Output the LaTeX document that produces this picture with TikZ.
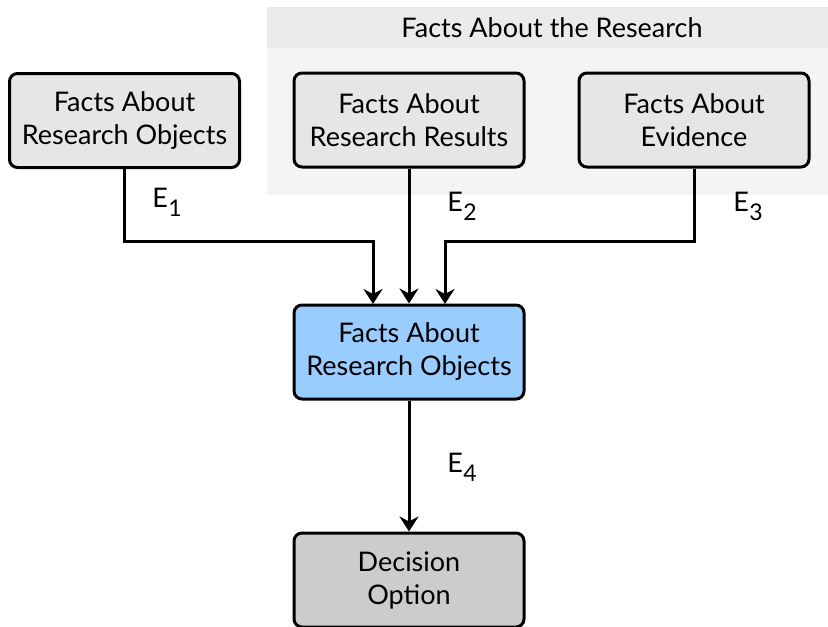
\documentclass[tikz,border=0pt]{standalone}
\usepackage{fontspec}
\setmainfont{Lato}
\usetikzlibrary{arrows.meta}
\definecolor{boxgray}{HTML}{E6E6E6}
\definecolor{darkgray}{HTML}{CCCCCC}
\definecolor{lightblue}{HTML}{99CCFF}
\definecolor{grphead}{HTML}{EBEBEB}
\definecolor{grpbody}{HTML}{F4F4F4}
\newcommand{\esub}[1]{E\kern0.5pt\raisebox{-9pt}{\fontsize{23}{26}\selectfont #1}}
\begin{document}
\begin{tikzpicture}[x=1pt,y=-1pt,
  fbox/.style={draw=black,line width=3pt,rounded corners=8pt,minimum width=230pt,minimum height=94pt,align=center,font=\fontsize{27}{33}\selectfont,inner sep=0pt},
  conn/.style={line width=3pt,-{Stealth[length=15pt,width=19pt,inset=5pt]}},
  elabel/.style={font=\fontsize{27}{30}\selectfont,inner sep=0pt}]
\useasboundingbox (0,0) rectangle (828,627);
% group background
\fill[grpbody] (267,7) rectangle (828,195);
\fill[grphead] (267,7) rectangle (828,48);
\node[font=\fontsize{27}{30}\selectfont] (grp) at (552,28) {Facts About the Research};
% boxes
\node[fbox,fill=boxgray] (b1) at (124.5,120.5) {Facts About\\Research Objects};
\node[fbox,fill=boxgray] (b2) at (409,120) {Facts About\\Research Results};
\node[fbox,fill=boxgray] (b3) at (694,120) {Facts About\\Evidence};
\node[fbox,fill=lightblue] (c) at (409,352) {Facts About\\Research Objects};
\node[fbox,fill=darkgray] (d) at (409,580) {Decision\\Option};
% connectors
\coordinate (c1) at (373,304);
\coordinate (c3) at (445,304);
\draw[conn] (b1.south) |- (249,241) -| (c1);
\draw[conn] (b2.south) -- (c.north);
\draw[conn] (b3.south) |- (570,241) -| (c3);
\draw[conn] (c.south) -- (d.north);
% labels
\node[elabel] (e1) at (167,202) {\esub{1}};
\node[elabel] (e2) at (462,206) {\esub{2}};
\node[elabel] (e3) at (748,206) {\esub{3}};
\node[elabel] (e4) at (462,467) {\esub{4}};
\end{tikzpicture}
\end{document}
